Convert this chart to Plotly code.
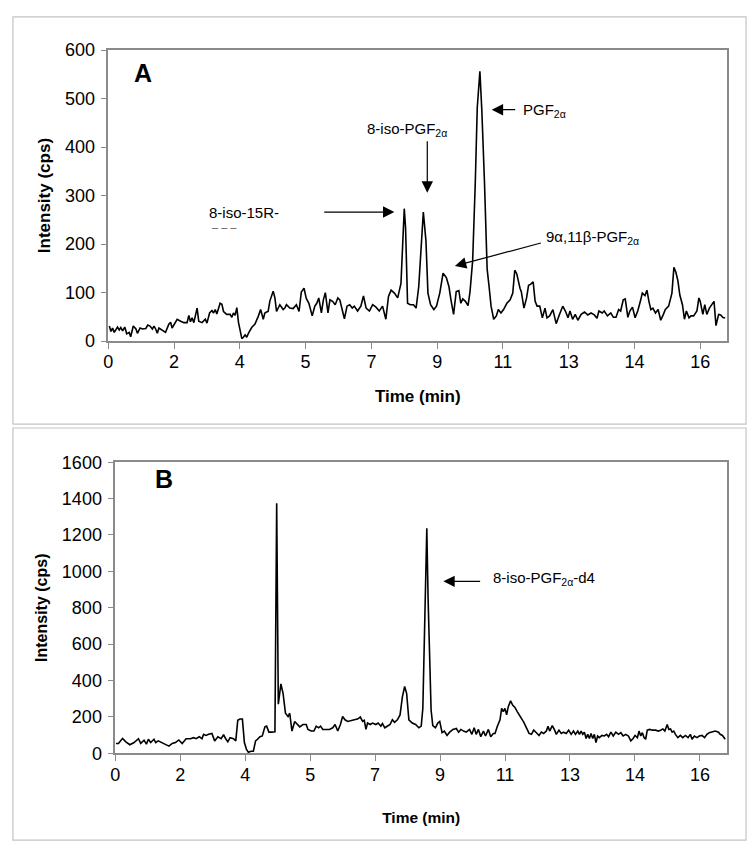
import plotly.graph_objects as go

# ---------------- data ----------------
X_TICK_LABELS = ["0", "2", "4", "5", "7", "9", "11", "13", "14", "16"]

# Panel A: time (axis slot units) and intensity (cps)
A_time = [0.015,0.04,0.065,0.09,0.14,0.166,0.19,0.217,0.25,0.28,0.317,0.34,0.38,0.42,0.443,0.483,0.52,0.57,0.60,0.634,
          0.67,0.695,0.72,0.745,0.77,0.82,0.87,0.92,0.947,0.97,1.007,1.047,1.10,1.148,1.198,1.224,1.249,1.274,1.30,1.324,
          1.35,1.375,1.425,1.475,1.50,1.54,1.576,1.60,1.626,1.65,1.70,1.727,1.752,1.80,1.853,1.878,1.903,1.928,1.954,1.98,
          2.004,2.03,2.054,2.08,2.105,2.13,2.18,2.23,2.28,2.316,2.356,2.38,2.407,2.43,2.457,2.507,2.533,2.558,2.608,2.659,
          2.684,2.709,2.76,2.81,2.86,2.90,2.935,2.976,3.01,3.05,3.10,3.14,3.17,3.20,3.24,3.27,3.30,3.34,3.37,3.41,
          3.45,3.49,3.52,3.56,3.59,3.63,3.67,3.71,3.74,3.79,3.84,3.88,3.92,3.97,4.02,4.07,4.12,4.17,4.22,4.26,
          4.30,4.35,4.40,4.45,4.48,4.50,4.52,4.55,4.59,4.64,4.68,4.72,4.79,4.83,4.86,4.90,4.95,4.99,5.04,5.09,
          5.14,5.18,5.21,5.25,5.29,5.33,5.36,5.39,5.43,5.47,5.50,5.54,5.58,5.61,5.65,5.68,5.72,5.76,5.79,5.82,
          5.86,5.90,5.93,5.97,6.01,6.06,6.11,6.15,6.18,6.21,6.26,6.28,6.32,6.36,6.39,6.42,6.46,6.49,6.52,6.56,
          6.60,6.64,6.67,6.71,6.76,6.81,6.86,6.91,6.95,6.99,7.02,7.06,7.10,7.14,7.19,7.24,7.29,7.34,7.39,7.43,
          7.46,7.51,7.54,7.59,7.64,7.68,7.72,7.76,7.79,7.83,7.86,7.90,7.93,7.97,8.01,8.05,8.09,8.12,8.16,8.19,
          8.22,8.25,8.28,8.32,8.36,8.40,8.44,8.47,8.52,8.57,8.60,8.63,8.66,8.69,8.73,8.76,8.79,8.83,8.86,8.90,
          8.95,8.98,9.00,9.04,9.07,9.10,9.14,9.18,9.21,9.24,9.28,9.31,9.35,9.38]
A_intensity = [31,20,27,18,29,23,28,21,29,15,18,9,31,25,16,27,25,26,33,31,
               25,31,25,16,27,23,18,35,39,27,35,45,41,38,38,53,40,48,38,53,
               68,41,38,45,37,58,63,58,65,56,78,76,61,55,55,49,58,53,69,38,
               18,5,8,13,8,16,28,35,51,65,45,58,60,61,83,103,89,61,75,65,
               68,75,68,67,75,61,101,109,88,78,52,72,78,89,58,85,100,58,85,82,
               75,89,85,65,46,72,75,68,72,62,72,93,68,62,75,70,62,72,45,92,
               105,99,89,119,230,273,233,78,75,75,68,112,266,206,99,75,65,72,99,140,
               131,112,85,55,102,104,78,87,82,73,102,166,327,481,556,474,327,149,112,72,
               45,52,65,58,65,78,85,99,146,139,109,102,68,89,115,117,122,82,72,72,
               48,68,48,52,65,36,55,72,62,48,62,45,55,43,55,60,54,58,54,47,
               62,58,62,52,58,49,49,65,62,85,87,49,62,70,48,62,82,99,94,105,
               82,65,68,58,65,43,55,65,72,99,152,142,125,95,75,45,62,48,52,52,
               62,89,82,55,75,55,68,75,82,32,55,54,48,48]

# Panel B
B_time = [0.01,0.05,0.112,0.163,0.224,0.29,0.357,0.392,0.443,0.479,0.51,0.545,0.596,0.622,0.662,0.713,0.764,0.826,0.877,0.927,
          0.978,1.03,1.09,1.157,1.208,1.244,1.294,1.335,1.36,1.396,1.437,1.488,1.53,1.58,1.63,1.667,1.70,1.733,1.768,1.82,
          1.855,1.886,1.92,1.957,1.988,2.018,2.049,2.09,2.126,2.16,2.19,2.228,2.263,2.304,2.33,2.365,2.405,2.44,2.458,2.485,
          2.51,2.55,2.584,2.62,2.66,2.686,2.72,2.762,2.80,2.84,2.89,2.94,2.966,3.017,3.058,3.094,3.13,3.16,3.195,3.246,
          3.297,3.348,3.384,3.425,3.466,3.50,3.537,3.578,3.63,3.68,3.73,3.772,3.808,3.833,3.859,3.884,3.925,3.96,4.011,4.047,
          4.088,4.113,4.15,4.19,4.23,4.266,4.30,4.343,4.384,4.42,4.455,4.486,4.52,4.572,4.623,4.674,4.71,4.735,4.75,4.776,
          4.796,4.816,4.842,4.862,4.888,4.929,4.965,4.995,5.031,5.066,5.107,5.148,5.199,5.25,5.285,5.321,5.362,5.403,5.454,5.49,
          5.525,5.556,5.591,5.627,5.668,5.70,5.744,5.78,5.82,5.846,5.882,5.923,5.948,5.974,5.999,6.025,6.05,6.086,6.117,6.153,
          6.188,6.254,6.29,6.33,6.37,6.407,6.442,6.483,6.524,6.56,6.595,6.636,6.662,6.687,6.728,6.764,6.79,6.83,6.866,6.90,
          6.942,6.98,7.018,7.054,7.085,7.12,7.146,7.171,7.197,7.222,7.248,7.273,7.299,7.324,7.35,7.375,7.40,7.426,7.452,7.492,
          7.528,7.564,7.594,7.63,7.666,7.706,7.747,7.783,7.818,7.859,7.90,7.936,7.972,8.002,8.038,8.063,8.089,8.114,8.14,8.165,
          8.19,8.227,8.267,8.318,8.359,8.395,8.43,8.461,8.497,8.522,8.548,8.573,8.598,8.624,8.66,8.70,8.736,8.777,8.818,8.853,
          8.879,8.915,8.955,8.99,9.032,9.072,9.108,9.144,9.185,9.236,9.287,9.312,9.348,9.389]
B_intensity = [54,54,82,63,47,59,80,54,72,50,77,59,77,59,68,59,50,39,54,59,
               73,54,80,80,86,80,91,80,104,98,104,109,68,91,80,102,80,63,86,80,
               68,181,188,188,59,23,5,11,11,68,77,91,95,145,149,116,116,116,118,1375,
               270,381,328,220,202,220,122,175,163,145,158,158,131,122,122,149,140,149,131,131,
               131,140,158,122,158,202,184,175,181,184,188,199,175,181,131,166,158,166,158,166,
               149,163,140,149,158,184,170,184,211,310,367,328,184,166,158,140,149,247,489,847,
               1237,847,489,238,152,140,166,175,113,122,98,116,131,136,116,131,122,116,131,104,
               140,104,131,91,122,95,131,91,109,109,149,184,247,229,247,211,256,288,265,252,
               229,193,170,140,109,104,127,113,98,116,109,122,149,122,152,127,104,127,109,116,
               109,127,104,122,104,122,104,122,104,116,81,104,81,109,81,104,59,95,86,98,
               95,104,91,116,95,116,104,113,95,104,95,68,81,98,86,122,95,113,86,77,
               127,131,127,127,122,127,134,122,158,131,134,116,122,104,86,98,86,98,86,104,
               77,95,86,95,98,86,104,113,116,122,116,104,98,77]

# ---------------- layout helpers ----------------
W, H = 753, 858
FONT = "Liberation Sans, Arial, sans-serif"


def px(x):
    return x / W


def py(y):
    return 1 - y / H


fig = go.Figure()
fig.add_trace(go.Scatter(x=A_time, y=A_intensity, mode="lines",
                         line=dict(color="black", width=1.6), xaxis="x", yaxis="y", showlegend=False))
fig.add_trace(go.Scatter(x=B_time, y=B_intensity, mode="lines",
                         line=dict(color="black", width=1.6), xaxis="x2", yaxis="y2", showlegend=False))

axis_common = dict(showline=True, mirror=True, linecolor="#8a8a8a", linewidth=1.5,
                   showgrid=False, zeroline=False, ticks="outside", ticklen=6,
                   tickcolor="#8a8a8a", tickwidth=1.2,
                   tickfont=dict(family=FONT, size=18, color="black"))

xt = list(range(len(X_TICK_LABELS)))

fig.update_layout(
    width=W, height=H, autosize=False,
    margin=dict(l=0, r=0, t=0, b=0),
    paper_bgcolor="white", plot_bgcolor="white",
    xaxis=dict(domain=[px(104), px(727)], range=[0, 9.41], anchor="y",
               tickvals=xt, ticktext=X_TICK_LABELS, ticklabelstandoff=-2,
               title=dict(text="<b>Time (min)</b>", font=dict(family=FONT, size=17, color="black"), standoff=19),
               **axis_common),
    yaxis=dict(domain=[py(339), py(41)], range=[0, 600], dtick=100, anchor="x",
               ticklabelstandoff=2,
               title=dict(text="<b>Intensity (cps)</b>", font=dict(family=FONT, size=17, color="black"), standoff=10),
               **axis_common),
    xaxis2=dict(domain=[px(111), px(727)], range=[0, 9.42], anchor="y2",
                tickvals=xt, ticktext=X_TICK_LABELS, ticklabelstandoff=-2,
                title=dict(text="<b>Time (min)</b>", font=dict(family=FONT, size=15.5, color="black"), standoff=29),
                **axis_common),
    yaxis2=dict(domain=[py(761), py(463)], range=[0, 1600], dtick=200, anchor="x2",
                ticklabelstandoff=2,
                title=dict(text="<b>Intensity (cps)</b>", font=dict(family=FONT, size=16, color="black"), standoff=10),
                **axis_common),
)

# outer panel frames
for (x0, y0, x1, y1) in [(8, 7, 746, 424), (8, 428, 746, 850)]:
    fig.add_shape(type="rect", xref="paper", yref="paper",
                  x0=px(x0), x1=px(x1), y0=py(y1), y1=py(y0),
                  line=dict(color="#c4c4c4", width=1.2), fillcolor="rgba(0,0,0,0)")

lab = dict(family=FONT, size=15, color="black")
arrow = dict(showarrow=True, arrowhead=2, arrowsize=1.9, arrowwidth=1.2, arrowcolor="black", text="")
ann = []
# Panel A labels
ann.append(dict(x=0.53, y=553, xref="x", yref="y", text="<b>A</b>", showarrow=False,
                font=dict(family=FONT, size=25, color="black")))
ann.append(dict(x=2.07, y=266, xref="x", yref="y", text="8-iso-15R-", showarrow=False, font=lab))
ann.append(dict(x=1.55, y=236, xref="x", yref="y", text="‒ ‒ ‒", showarrow=False, xanchor="left",
                font=dict(family=FONT, size=11, color="#555")))
ann.append(dict(x=4.35, y=266, ax=3.26, ay=266, xref="x", yref="y", axref="x", ayref="y", **arrow))
ann.append(dict(x=3.91, y=437, xref="x", yref="y", xanchor="left", text="8-iso-PGF<sub>2α</sub>",
                showarrow=False, font=lab))
ann.append(dict(x=4.85, y=306, ax=4.85, ay=415, xref="x", yref="y", axref="x", ayref="y", **arrow))
ann.append(dict(x=6.28, y=475, xref="x", yref="y", xanchor="left", text="PGF<sub>2α</sub>",
                showarrow=False, font=lab))
ann.append(dict(x=5.83, y=477, ax=6.21, ay=477, xref="x", yref="y", axref="x", ayref="y", **arrow))
ann.append(dict(x=6.62, y=213, xref="x", yref="y", xanchor="left", text="9α,11β-PGF<sub>2α</sub>",
                showarrow=False, font=lab))
ann.append(dict(x=5.27, y=155, ax=6.60, ay=203, xref="x", yref="y", axref="x", ayref="y", **arrow))
# Panel B labels
ann.append(dict(x=0.75, y=1509, xref="x2", yref="y2", text="<b>B</b>", showarrow=False,
                font=dict(family=FONT, size=25, color="black")))
ann.append(dict(x=5.78, y=961, xref="x2", yref="y2", xanchor="left", text="8-iso-PGF<sub>2α</sub>-d4",
                showarrow=False, font=lab))
ann.append(dict(x=5.05, y=945, ax=5.64, ay=945, xref="x2", yref="y2", axref="x2", ayref="y2", **arrow))
fig.update_layout(annotations=ann)

fig.write_html("out.html", config={"displayModeBar": False},
               post_script="document.body.style.margin='0';")
